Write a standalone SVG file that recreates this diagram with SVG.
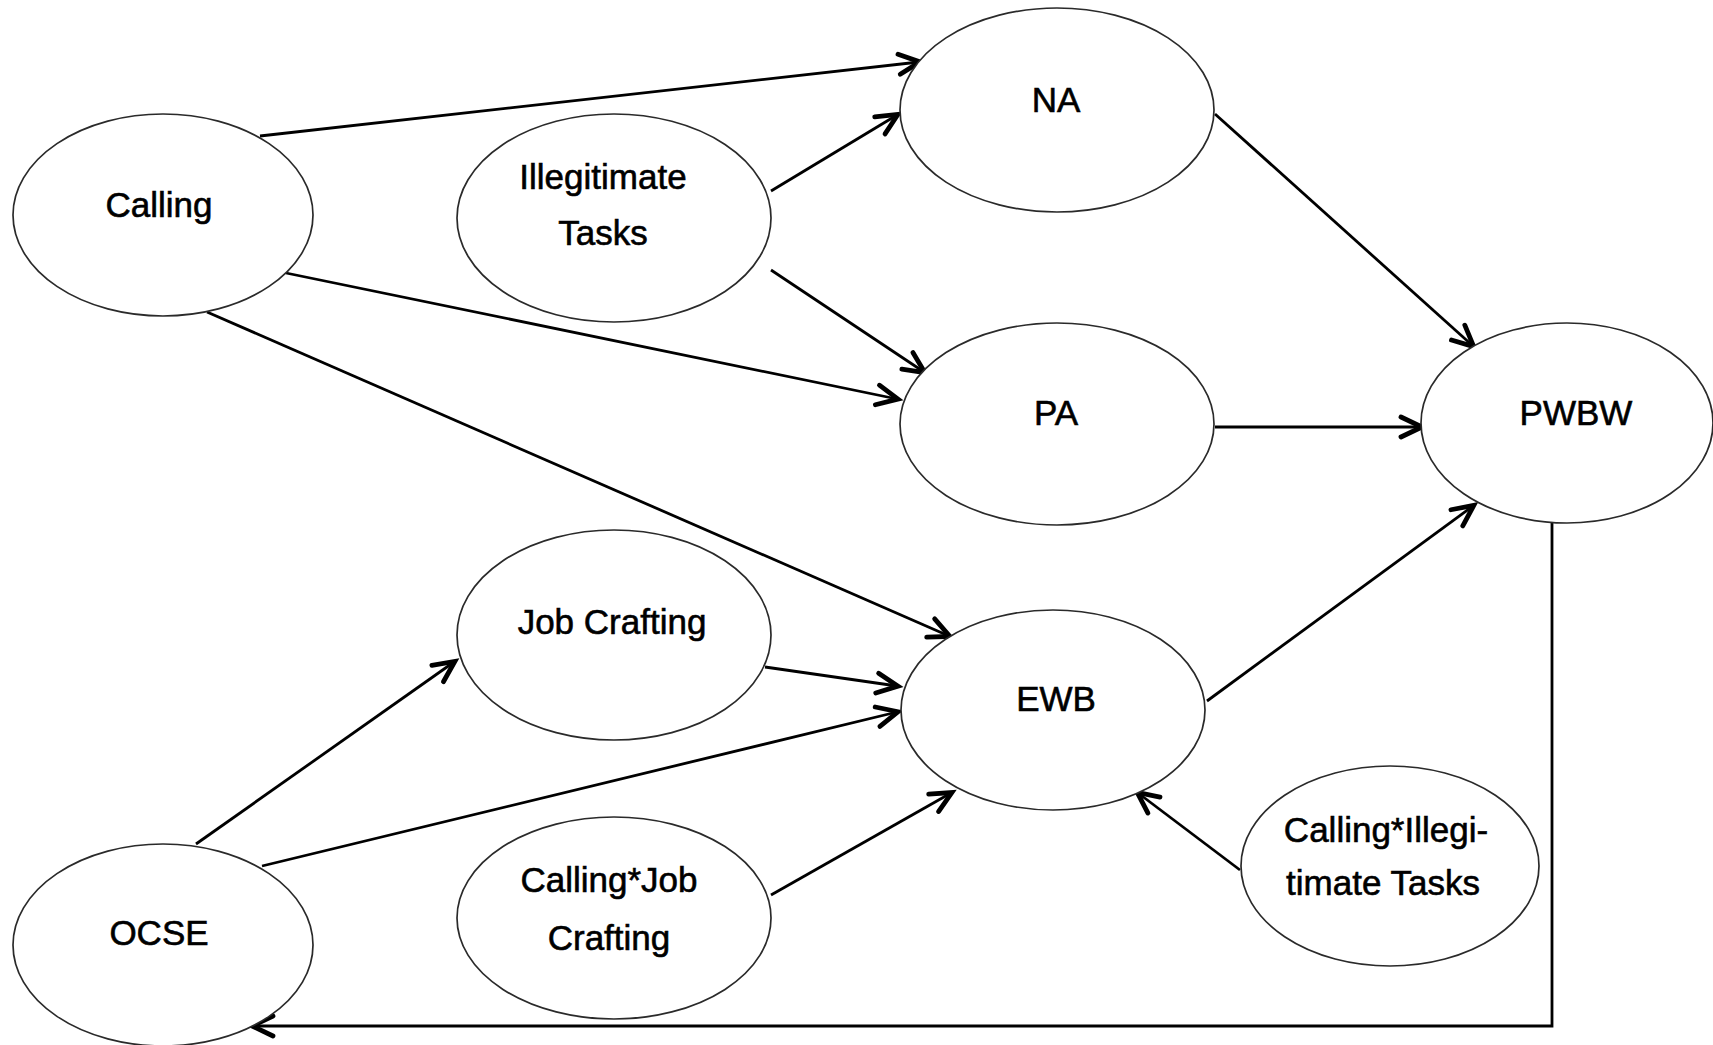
<svg xmlns="http://www.w3.org/2000/svg" width="1713" height="1045" viewBox="0 0 1713 1045">
  <defs>
    <style>
      .node ellipse { fill: #ffffff; stroke: #2a2a2a; stroke-width: 1.7; }
      .node text { font-family: "Liberation Sans", Arial, sans-serif; font-size: 35px; fill: #000000; stroke: #000000; stroke-width: 0.6; text-anchor: middle; }
      .edge { fill: none; stroke: #000000; stroke-width: 2.8; }
    </style>
    <marker id="arrow" markerUnits="userSpaceOnUse" markerWidth="40" markerHeight="40" viewBox="-30 -20 40 40" refX="-1" refY="0" orient="auto">
      <path d="M-21,-10 L0,0 L-21,10" fill="none" stroke="#000000" stroke-width="4.8" stroke-linecap="round" stroke-linejoin="miter"/>
    </marker>
  </defs>

  <rect width="1713" height="1045" fill="#ffffff"/>

  <!-- connectors -->
  <g id="connectors">
    <line class="edge" x1="260" y1="136" x2="919" y2="62" marker-end="url(#arrow)"/>
    <line class="edge" x1="771" y1="191" x2="897" y2="115" marker-end="url(#arrow)"/>
    <line class="edge" x1="771" y1="270" x2="924" y2="372" marker-end="url(#arrow)"/>
    <line class="edge" x1="286" y1="273" x2="897" y2="399" marker-end="url(#arrow)"/>
    <line class="edge" x1="207" y1="312" x2="949" y2="636" marker-end="url(#arrow)"/>
    <line class="edge" x1="765" y1="667" x2="897" y2="686" marker-end="url(#arrow)"/>
    <line class="edge" x1="262" y1="866" x2="897" y2="712" marker-end="url(#arrow)"/>
    <line class="edge" x1="196" y1="844" x2="454" y2="662" marker-end="url(#arrow)"/>
    <line class="edge" x1="771" y1="895" x2="951" y2="793" marker-end="url(#arrow)"/>
    <line class="edge" x1="1240" y1="870" x2="1138" y2="793" marker-end="url(#arrow)"/>
    <line class="edge" x1="1207" y1="701" x2="1473" y2="506" marker-end="url(#arrow)"/>
    <line class="edge" x1="1215" y1="114" x2="1473" y2="346" marker-end="url(#arrow)"/>
    <line class="edge" x1="1215" y1="427" x2="1421" y2="427" marker-end="url(#arrow)"/>
    <path class="edge" d="M1552,523 V1026 H253" marker-end="url(#arrow)"/>
  </g>

  <!-- nodes -->
  <g id="calling" class="node">
    <ellipse cx="163" cy="215" rx="150" ry="101"/>
    <text x="159" y="217">Calling</text>
  </g>
  <g id="illegitimate-tasks" class="node">
    <ellipse cx="614" cy="218" rx="157" ry="104"/>
    <text x="603" y="189">Illegitimate</text>
    <text x="603" y="245">Tasks</text>
  </g>
  <g id="na" class="node">
    <ellipse cx="1057" cy="110" rx="157" ry="102"/>
    <text x="1056" y="112">NA</text>
  </g>
  <g id="pa" class="node">
    <ellipse cx="1057" cy="424" rx="157" ry="101"/>
    <text x="1056" y="425">PA</text>
  </g>
  <g id="pwbw" class="node">
    <ellipse cx="1567" cy="423" rx="146" ry="100"/>
    <text x="1576" y="425">PWBW</text>
  </g>
  <g id="job-crafting" class="node">
    <ellipse cx="614" cy="635" rx="157" ry="105"/>
    <text x="612" y="634">Job Crafting</text>
  </g>
  <g id="ewb" class="node">
    <ellipse cx="1053" cy="710" rx="152" ry="100"/>
    <text x="1056" y="711">EWB</text>
  </g>
  <g id="calling-job-crafting" class="node">
    <ellipse cx="614" cy="918" rx="157" ry="101"/>
    <text x="609" y="892">Calling*Job</text>
    <text x="609" y="950">Crafting</text>
  </g>
  <g id="calling-illegitimate-tasks" class="node">
    <ellipse cx="1390" cy="866" rx="149" ry="100"/>
    <text x="1386" y="842">Calling*Illegi-</text>
    <text x="1383" y="895">timate Tasks</text>
  </g>
  <g id="ocse" class="node">
    <ellipse cx="163" cy="945" rx="150" ry="101"/>
    <text x="159" y="945">OCSE</text>
  </g>
</svg>
